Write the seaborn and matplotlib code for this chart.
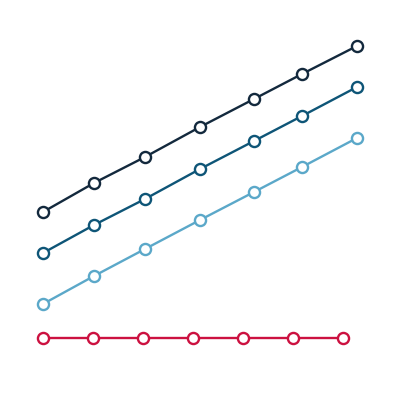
import numpy as np
import pandas as pd
import matplotlib
matplotlib.use('Agg')
import matplotlib.pyplot as plt
import seaborn as sns

sns.set_style('white')

# x positions (steps)
steps_upper = [0, 1.02, 2.04, 3.14, 4.22, 5.18, 6.28]
steps_base = [0, 1, 2, 3, 4, 5, 6]

# series values
navy_vals = [188, 217, 243, 273, 301, 326, 354]
teal_vals = [147, 175, 201, 231, 259, 284, 313]
light_vals = [96, 124, 151, 180, 208, 233, 262]
red_vals = [62, 62, 62, 62, 62, 62, 62]

series = ['navy', 'teal', 'light', 'red']
colors = {'navy': '#13293d', 'teal': '#0e5577', 'light': '#5ba8c9', 'red': '#cc1140'}

df = pd.concat([
    pd.DataFrame({'x': steps_upper, 'y': navy_vals, 'series': 'navy'}),
    pd.DataFrame({'x': steps_upper, 'y': teal_vals, 'series': 'teal'}),
    pd.DataFrame({'x': steps_upper, 'y': light_vals, 'series': 'light'}),
    pd.DataFrame({'x': steps_base, 'y': red_vals, 'series': 'red'}),
])

fig = plt.figure(figsize=(4, 4), dpi=100)
ax = fig.add_axes([0, 0, 1, 1])

for s in series:
    sub = df[df['series'] == s]
    sns.lineplot(ax=ax, data=sub, x='x', y='y', color=colors[s], linewidth=1.7,
                 marker='o', markersize=8, markerfacecolor='white',
                 markeredgecolor=colors[s], markeredgewidth=1.7, legend=False)

ax.set_xlim(-0.86, 7.14)
ax.set_ylim(0, 400)
ax.axis('off')

plt.savefig('out.png', dpi=100, facecolor='white')
plt.close()
